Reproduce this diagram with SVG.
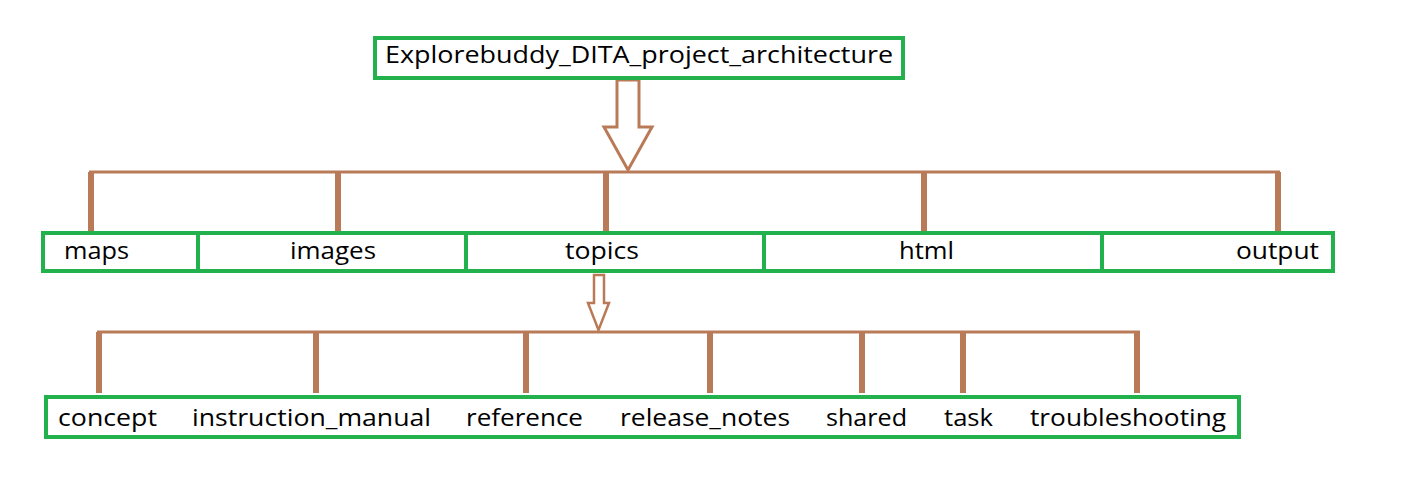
<svg xmlns="http://www.w3.org/2000/svg" width="1411" height="488" viewBox="0 0 1411 488">
<style>
.box{fill:#ffffff;stroke:#22b14c;stroke-width:4}
.t{font-family:"Open Sans","Noto Sans","Liberation Sans",sans-serif;font-size:24px;fill:#000000}
.hl{stroke:#b97a57;stroke-width:3;fill:none}
.drop{stroke:#b97a57;stroke-width:6}
.arr{fill:#ffffff;stroke:#b97a57;stroke-width:3;stroke-linejoin:miter}
</style>
<rect width="1411" height="488" fill="#ffffff"/>
<g id="connectors">
<path class="arr" d="M617,80 L639,80 L639,127 L652,127 L628,170 L604,127 L617,127 Z"/>
<line class="hl" x1="89" y1="172" x2="1280" y2="172"/>
<line class="drop" x1="91" y1="172" x2="91" y2="231"/>
<line class="drop" x1="338" y1="172" x2="338" y2="231"/>
<line class="drop" x1="606" y1="172" x2="606" y2="231"/>
<line class="drop" x1="924" y1="172" x2="924" y2="231"/>
<line class="drop" x1="1278" y1="172" x2="1278" y2="231"/>
<path class="arr" d="M594,275 L604,275 L604,303 L609,303 L598.5,330 L588,303 L594,303 Z" style="stroke-width:2.5"/>
<line class="hl" x1="97" y1="332" x2="1140" y2="332"/>
<line class="drop" x1="99" y1="332" x2="99" y2="393"/>
<line class="drop" x1="316" y1="332" x2="316" y2="393"/>
<line class="drop" x1="526" y1="332" x2="526" y2="393"/>
<line class="drop" x1="710" y1="332" x2="710" y2="393"/>
<line class="drop" x1="862" y1="332" x2="862" y2="393"/>
<line class="drop" x1="963" y1="332" x2="963" y2="393"/>
<line class="drop" x1="1137" y1="332" x2="1137" y2="393"/>
</g>
<g id="root">
<rect class="box" x="375" y="38" width="528" height="40"/>
<text class="t" x="385" y="63" textLength="508" lengthAdjust="spacingAndGlyphs">Explorebuddy_DITA_project_architecture</text>
</g>
<g id="maps">
<rect class="box" x="43" y="233" width="155" height="38"/>
<text class="t" x="64" y="259" textLength="65" lengthAdjust="spacingAndGlyphs">maps</text>
</g>
<g id="images">
<rect class="box" x="198" y="233" width="268" height="38"/>
<text class="t" x="290" y="259" textLength="86" lengthAdjust="spacingAndGlyphs">images</text>
</g>
<g id="topics">
<rect class="box" x="466" y="233" width="298" height="38"/>
<text class="t" x="565" y="259" textLength="74" lengthAdjust="spacingAndGlyphs">topics</text>
</g>
<g id="html">
<rect class="box" x="764" y="233" width="338" height="38"/>
<text class="t" x="899" y="259" textLength="55" lengthAdjust="spacingAndGlyphs">html</text>
</g>
<g id="output">
<rect class="box" x="1102" y="233" width="231" height="38"/>
<text class="t" x="1236" y="259" textLength="83" lengthAdjust="spacingAndGlyphs">output</text>
</g>
<g id="subfolders">
<rect class="box" x="46" y="397" width="1193" height="40"/>
<text class="t" x="58" y="426" textLength="99" lengthAdjust="spacingAndGlyphs">concept</text>
<text class="t" x="192" y="426" textLength="239" lengthAdjust="spacingAndGlyphs">instruction_manual</text>
<text class="t" x="466" y="426" textLength="117" lengthAdjust="spacingAndGlyphs">reference</text>
<text class="t" x="620" y="426" textLength="170" lengthAdjust="spacingAndGlyphs">release_notes</text>
<text class="t" x="826" y="426" textLength="81" lengthAdjust="spacingAndGlyphs">shared</text>
<text class="t" x="944" y="426" textLength="49" lengthAdjust="spacingAndGlyphs">task</text>
<text class="t" x="1030" y="426" textLength="196" lengthAdjust="spacingAndGlyphs">troubleshooting</text>
</g>
</svg>
